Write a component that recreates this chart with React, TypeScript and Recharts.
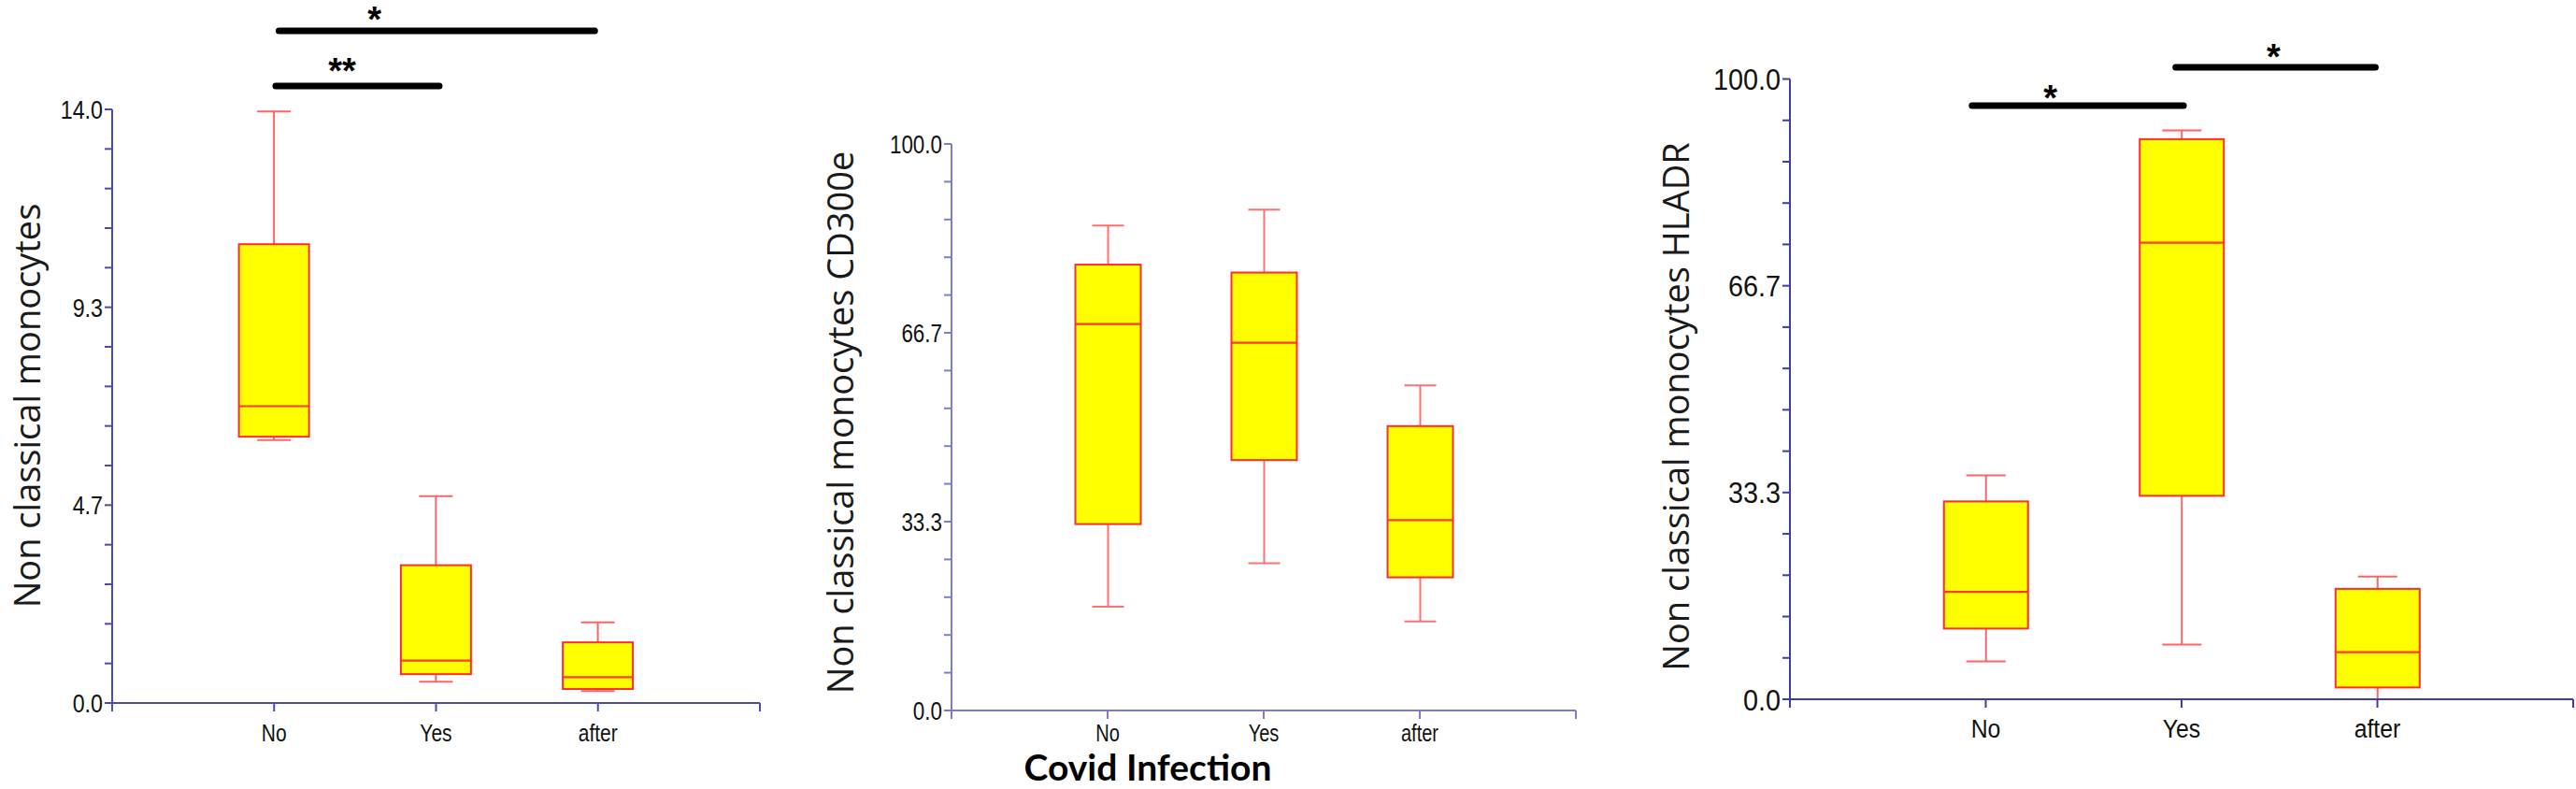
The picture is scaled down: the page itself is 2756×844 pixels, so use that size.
import React from "react";
import {
  ComposedChart,
  Bar,
  XAxis,
  YAxis,
  ReferenceLine,
  ReferenceDot,
} from "recharts";

// ── data ──────────────────────────────────────────────────────────────────────

const CATEGORIES = ["No", "Yes", "after"];
const CAT_POS = [1, 2, 3];
const X_TICKS = [0, 1, 2, 3, 4];

// Non classical monocytes
const MONO_MIN = [6.2, 0.5, 0.28];
const MONO_Q1 = [6.28, 0.68, 0.33];
const MONO_MEDIAN = [7.0, 1.0, 0.61];
const MONO_Q3 = [10.82, 3.25, 1.43];
const MONO_MAX = [13.95, 4.88, 1.9];
const MONO_TICKS = Array.from({ length: 16 }, (_, i) => (14 * i) / 15);
const MONO_TICK_LABELS = ["0.0", "4.7", "9.3", "14.0"];

// Non classical monocytes CD300e
const CD300_MIN = [18.3, 26.0, 15.7];
const CD300_Q1 = [32.9, 44.2, 23.5];
const CD300_MEDIAN = [68.2, 64.9, 33.6];
const CD300_Q3 = [78.7, 77.3, 50.2];
const CD300_MAX = [85.6, 88.4, 57.4];

// Non classical monocytes HLADR
const HLADR_MIN = [6.1, 8.8, 0];
const HLADR_Q1 = [11.4, 32.8, 1.9];
const HLADR_MEDIAN = [17.3, 73.6, 7.6];
const HLADR_Q3 = [31.9, 90.3, 17.8];
const HLADR_MAX = [36.1, 91.7, 19.8];

const PCT_TICKS = Array.from({ length: 16 }, (_, i) => (100 * i) / 15);
const PCT_TICK_LABELS = ["0.0", "33.3", "66.7", "100.0"];

// significance brackets and stars
const MONO_SIG_LINES = [
  { x1: 1.03, x2: 2.98, y: 15.85 },
  { x1: 1.01, x2: 2.02, y: 14.55 },
];
const MONO_STARS = [
  { x: 1.62, y: 16.27, text: "*" },
  { x: 1.42, y: 15.06, text: "**" },
];
const HLADR_SIG_LINES = [
  { x1: 0.93, x2: 2.01, y: 95.7 },
  { x1: 1.97, x2: 2.99, y: 101.9 },
];
const HLADR_STARS = [
  { x: 1.33, y: 98.0, text: "*" },
  { x: 2.47, y: 104.6, text: "*" },
];

// ── helpers ───────────────────────────────────────────────────────────────────

const CHART_H = 844;
const STAR_SIZE = 38;

function toRows(mins: number[], q1s: number[], meds: number[], q3s: number[], maxs: number[]) {
  return CATEGORIES.map((name, i) => ({
    name,
    pos: CAT_POS[i],
    range: [mins[i], maxs[i]],
    min: mins[i],
    q1: q1s[i],
    median: meds[i],
    q3: q3s[i],
    max: maxs[i],
  }));
}

interface PanelCfg {
  left: number;
  width: number;
  plotLeft: number; // chart-relative
  plotRight: number;
  plotTop: number;
  plotBottom: number;
  yMax: number;
  yTicks: number[];
  yTickLabels: string[];
  yLabel: string;
  yLabelX: number; // baseline x, chart-relative
  yLabelY: number;
  yLabelSize: number;
  yTickSize: number;
  yTickScale: number;
  xTickSize: number;
  xTickScale: number;
  xTickBaseline: number;
  axisColor: string;
  whiskerColor: string;
  boxWidth: number;
  capWidth: number;
  rows: ReturnType<typeof toRows>;
  sigLines?: { x1: number; x2: number; y: number }[];
  stars?: { x: number; y: number; text: string }[];
  xLabel?: { text: string; x: number; y: number };
}

function BoxShape(props: any) {
  const { x, y, width, height, payload, cfg } = props;
  const top = Math.min(y, y + height);
  const bottom = Math.max(y, y + height);
  const { min, max, q1, q3, median } = payload;
  const px = (v: number) => bottom - ((v - min) / (max - min)) * (bottom - top);
  const cx = x + width / 2;
  const cw = cfg.capWidth / 2;
  const wStyle = { stroke: cfg.whiskerColor, strokeWidth: 2 };
  return (
    <g>
      <line x1={cx} x2={cx} y1={px(max)} y2={px(q3)} {...wStyle} />
      <line x1={cx} x2={cx} y1={px(q1)} y2={px(min)} {...wStyle} />
      <line x1={cx - cw} x2={cx + cw} y1={px(max)} y2={px(max)} {...wStyle} />
      <line x1={cx - cw} x2={cx + cw} y1={px(min)} y2={px(min)} {...wStyle} />
      <rect
        x={x}
        y={px(q3)}
        width={width}
        height={px(q1) - px(q3)}
        fill="#ffff00"
        stroke="#ff2d2d"
        strokeWidth={2}
      />
      <line x1={x} x2={x + width} y1={px(median)} y2={px(median)} stroke="#ff3a12" strokeWidth={2.2} />
    </g>
  );
}

function BoxPanel({ cfg }: { cfg: PanelCfg }) {
  const yAxisW = 60;
  const xAxisH = 60;
  const margin = {
    top: cfg.plotTop,
    right: cfg.width - cfg.plotRight,
    left: cfg.plotLeft - yAxisW,
    bottom: CHART_H - cfg.plotBottom - xAxisH,
  };
  const axisStroke = { stroke: cfg.axisColor, strokeWidth: 2 };

  const yTick = (p: any) => {
    const idx = p.index as number;
    if (idx % 5 !== 0) return <g />;
    return (
      <g transform={`translate(${p.x},${p.y}) scale(${cfg.yTickScale},1)`}>
        <text
          textAnchor="end"
          dy="0.36em"
          fontFamily="Liberation Sans, Arial, sans-serif"
          fontSize={cfg.yTickSize}
          fill="#111"
        >
          {cfg.yTickLabels[idx / 5]}
        </text>
      </g>
    );
  };

  const xTick = (p: any) => {
    const v = p.payload?.value as number;
    const label = CAT_POS.includes(v) ? CATEGORIES[CAT_POS.indexOf(v)] : "";
    if (!label) return <g />;
    return (
      <g transform={`translate(${p.x},${cfg.plotBottom + cfg.xTickBaseline}) scale(${cfg.xTickScale},1)`}>
        <text
          textAnchor="middle"
          fontFamily="Liberation Sans, Arial, sans-serif"
          fontSize={cfg.xTickSize}
          fill="#111"
        >
          {label}
        </text>
      </g>
    );
  };

  return (
    <div style={{ position: "absolute", left: cfg.left, top: 0 }}>
      <ComposedChart width={cfg.width} height={CHART_H} data={cfg.rows} margin={margin}>
        <XAxis
          type="number"
          dataKey="pos"
          domain={[0, 4]}
          ticks={X_TICKS}
          interval={0}
          height={xAxisH}
          axisLine={axisStroke}
          tickLine={axisStroke}
          tickSize={9}
          tickMargin={0}
          tick={xTick}
          label={
            cfg.xLabel
              ? {
                  content: () => (
                    <text
                      x={cfg.xLabel!.x}
                      y={cfg.xLabel!.y}
                      textAnchor="middle"
                      fontFamily="Lato, sans-serif"
                      fontWeight={700}
                      fontSize={39}
                      fill="#000"
                    >
                      {cfg.xLabel!.text}
                    </text>
                  ),
                }
              : undefined
          }
        />
        <YAxis
          type="number"
          domain={[0, cfg.yMax]}
          ticks={cfg.yTicks}
          interval={0}
          width={yAxisW}
          axisLine={axisStroke}
          tickLine={axisStroke}
          tickSize={8}
          tickMargin={2}
          tick={yTick}
          label={{
            content: () => (
              <text
                x={cfg.yLabelX}
                y={cfg.yLabelY}
                transform={`rotate(-90, ${cfg.yLabelX}, ${cfg.yLabelY})`}
                textAnchor="middle"
                fontFamily="Open Sans, sans-serif"
                fontSize={cfg.yLabelSize}
                fill="#1a1a1a"
              >
                {cfg.yLabel}
              </text>
            ),
          }}
        />
        <Bar
          dataKey="range"
          barSize={cfg.boxWidth}
          isAnimationActive={false}
          shape={(p: any) => <BoxShape {...p} cfg={cfg} />}
        />
        {(cfg.sigLines ?? []).map((s, i) => (
          <ReferenceLine
            key={`sig-${i}`}
            segment={[
              { x: s.x1, y: s.y },
              { x: s.x2, y: s.y },
            ]}
            stroke="#000"
            strokeWidth={7}
            strokeLinecap="round"
            ifOverflow="visible"
          />
        ))}
        {(cfg.stars ?? []).map((s, i) => (
          <ReferenceDot
            key={`star-${i}`}
            x={s.x}
            y={s.y}
            r={0}
            ifOverflow="visible"
            shape={(p: any) => (
              <text
                x={p.cx}
                y={p.cy + 0.53 * STAR_SIZE}
                textAnchor="middle"
                fontFamily="Liberation Sans, Arial, sans-serif"
                fontWeight={700}
                fontSize={STAR_SIZE}
                fill="#000"
              >
                {s.text}
              </text>
            )}
          />
        ))}
      </ComposedChart>
    </div>
  );
}

const PANELS: PanelCfg[] = [
  {
    left: 0,
    width: 840,
    plotLeft: 120,
    plotRight: 813,
    plotTop: 117,
    plotBottom: 752,
    yMax: 14,
    yTicks: MONO_TICKS,
    yTickLabels: MONO_TICK_LABELS,
    yLabel: "Non classical monocytes",
    yLabelX: 43,
    yLabelY: 434,
    yLabelSize: 38,
    yTickSize: 28,
    yTickScale: 0.83,
    xTickSize: 25,
    xTickScale: 0.84,
    xTickBaseline: 41,
    axisColor: "#4a4ab4",
    whiskerColor: "#ff6464",
    boxWidth: 75,
    capWidth: 36,
    rows: toRows(MONO_MIN, MONO_Q1, MONO_MEDIAN, MONO_Q3, MONO_MAX),
    sigLines: MONO_SIG_LINES,
    stars: MONO_STARS,
  },
  {
    left: 860,
    width: 860,
    plotLeft: 158,
    plotRight: 826,
    plotTop: 154,
    plotBottom: 760,
    yMax: 100,
    yTicks: PCT_TICKS,
    yTickLabels: PCT_TICK_LABELS,
    yLabel: "Non classical monocytes CD300e",
    yLabelX: 53,
    yLabelY: 452,
    yLabelSize: 38,
    yTickSize: 28,
    yTickScale: 0.8,
    xTickSize: 25,
    xTickScale: 0.8,
    xTickBaseline: 33,
    axisColor: "#7c7cd4",
    whiskerColor: "#ff7070",
    boxWidth: 70,
    capWidth: 34,
    rows: toRows(CD300_MIN, CD300_Q1, CD300_MEDIAN, CD300_Q3, CD300_MAX),
    xLabel: { text: "Covid Infection", x: 368, y: 835 },
  },
  {
    left: 1730,
    width: 1026,
    plotLeft: 185,
    plotRight: 1023,
    plotTop: 84.5,
    plotBottom: 748,
    yMax: 100,
    yTicks: PCT_TICKS,
    yTickLabels: PCT_TICK_LABELS,
    yLabel: "Non classical monocytes HLADR",
    yLabelX: 77,
    yLabelY: 435,
    yLabelSize: 38,
    yTickSize: 32,
    yTickScale: 0.9,
    xTickSize: 27,
    xTickScale: 0.92,
    xTickBaseline: 41,
    axisColor: "#3c3caa",
    whiskerColor: "#ff6464",
    boxWidth: 90,
    capWidth: 42,
    rows: toRows(HLADR_MIN, HLADR_Q1, HLADR_MEDIAN, HLADR_Q3, HLADR_MAX),
    sigLines: HLADR_SIG_LINES,
    stars: HLADR_STARS,
  },
];

export default function App() {
  return (
    <div
      style={{
        position: "absolute",
        left: 0,
        top: 0,
        width: 2756,
        height: CHART_H,
        background: "#fff",
        overflow: "hidden",
      }}
    >
      {PANELS.map((cfg, i) => (
        <BoxPanel key={i} cfg={cfg} />
      ))}
    </div>
  );
}
